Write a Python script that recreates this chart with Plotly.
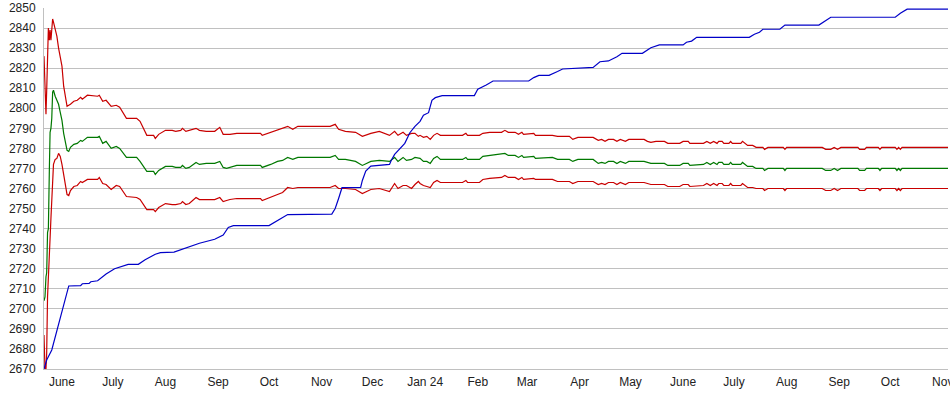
import plotly.graph_objects as go

# ---------------- data ----------------
blue_dates = [
    "2023-05-21 10:00", "2023-05-23", "2023-05-26", "2023-05-29", "2023-06-01", "2023-06-03",
    "2023-06-05", "2023-06-12", "2023-06-13", "2023-06-17", "2023-06-18", "2023-06-22",
    "2023-06-27", "2023-07-02", "2023-07-10", "2023-07-16", "2023-07-20", "2023-07-26",
    "2023-07-29", "2023-08-06", "2023-08-12", "2023-08-21", "2023-08-30", "2023-09-04",
    "2023-09-07", "2023-09-10", "2023-10-01", "2023-10-05", "2023-10-09", "2023-10-12",
    "2023-11-07", "2023-11-09", "2023-11-11", "2023-11-13", "2023-11-24", "2023-11-25",
    "2023-11-27", "2023-11-30", "2023-12-11", "2023-12-12", "2023-12-14", "2023-12-17",
    "2023-12-20", "2023-12-23", "2023-12-26", "2023-12-29", "2023-12-31", "2024-01-03",
    "2024-01-05", "2024-01-07", "2024-01-11", "2024-01-30", "2024-02-01", "2024-02-06",
    "2024-02-10", "2024-03-02", "2024-03-05", "2024-03-08", "2024-03-14", "2024-03-19",
    "2024-03-22", "2024-04-09", "2024-04-13", "2024-04-18", "2024-04-23", "2024-04-26",
    "2024-05-08", "2024-05-13", "2024-05-18", "2024-06-01", "2024-06-03", "2024-06-06",
    "2024-06-09", "2024-07-10", "2024-07-13", "2024-07-16", "2024-07-18", "2024-07-28",
    "2024-07-31", "2024-08-20", "2024-08-23", "2024-08-27", "2024-10-04", "2024-10-07",
    "2024-10-11", "2024-11-04 02:00",
]
blue_values = [
    2670, 2674.5, 2679.5, 2689.5, 2699.4, 2706,
    2711.4, 2711.6, 2712.5, 2712.7, 2713.5, 2714,
    2717.4, 2720, 2722.2, 2722.2, 2724.5, 2727.2,
    2728, 2728.3, 2730.2, 2732.7, 2734.7, 2736.8,
    2740.6, 2741.5, 2741.5, 2743.5, 2745.5, 2747,
    2747.2, 2750, 2755, 2760.4, 2760.5, 2764,
    2768.7, 2771.2, 2772, 2774, 2777, 2779.6,
    2782.5, 2787.8, 2791, 2793.5, 2796.6, 2797.8,
    2804, 2805.3, 2806.3, 2806.3, 2809.5, 2811.6,
    2813.6, 2813.6, 2815.3, 2816.4, 2816.4, 2818.3,
    2819.6, 2820.4, 2823.2, 2823.6, 2825.7, 2827.4,
    2827.4, 2830.2, 2831.6, 2831.6, 2832.9, 2833.5,
    2835.4, 2835.4, 2836.9, 2837.9, 2839.4, 2839.4,
    2841.5, 2841.5, 2843.2, 2845.4, 2845.4, 2847.4,
    2849.4, 2849.4,
]

band_dates = [
    "2023-05-21 10:00", "2023-05-22 00:00", "2023-05-22 14:00", "2023-05-23 00:00",
    "2023-05-23 12:00", "2023-05-24 00:00", "2023-05-24 14:00", "2023-05-25 00:00",
    "2023-05-25 12:00", "2023-05-26 00:00", "2023-05-26 12:00", "2023-05-27",
    "2023-05-28", "2023-05-29", "2023-05-30", "2023-05-31", "2023-06-01", "2023-06-02",
    "2023-06-03", "2023-06-04", "2023-06-05", "2023-06-06",
    "2023-06-08", "2023-06-10", "2023-06-12", "2023-06-13", "2023-06-16", "2023-06-22",
    "2023-06-23", "2023-06-25", "2023-06-27", "2023-06-30", "2023-07-03", "2023-07-05",
    "2023-07-09", "2023-07-15", "2023-07-17", "2023-07-21", "2023-07-25", "2023-07-26",
    "2023-07-28", "2023-08-01", "2023-08-05", "2023-08-07", "2023-08-10", "2023-08-11",
    "2023-08-13", "2023-08-15", "2023-08-19", "2023-08-21", "2023-08-25", "2023-08-30",
    "2023-09-02", "2023-09-04", "2023-09-06", "2023-09-08", "2023-09-12", "2023-09-26",
    "2023-09-27", "2023-10-02", "2023-10-06", "2023-10-09", "2023-10-12", "2023-10-15",
    "2023-10-18", "2023-11-06", "2023-11-09", "2023-11-11", "2023-11-15", "2023-11-21",
    "2023-11-25", "2023-11-30", "2023-12-05", "2023-12-11", "2023-12-14", "2023-12-16",
    "2023-12-19", "2023-12-21", "2023-12-24", "2023-12-26", "2023-12-28", "2023-12-29",
    "2023-12-31", "2024-01-02", "2024-01-04", "2024-01-06", "2024-01-08", "2024-01-10",
    "2024-01-23", "2024-01-25", "2024-01-26", "2024-02-02", "2024-02-04", "2024-02-08",
    "2024-02-15", "2024-02-17", "2024-02-19", "2024-02-23", "2024-02-25", "2024-02-27",
    "2024-02-28", "2024-03-05", "2024-03-06", "2024-03-16", "2024-03-19", "2024-03-26",
    "2024-03-28", "2024-03-31", "2024-04-09", "2024-04-12", "2024-04-14", "2024-04-16",
    "2024-04-18", "2024-04-21", "2024-04-23", "2024-04-25", "2024-04-28", "2024-04-30",
    "2024-05-09", "2024-05-11", "2024-05-13", "2024-05-16", "2024-05-21", "2024-05-23",
    "2024-05-30", "2024-06-01", "2024-06-04", "2024-06-05", "2024-06-13", "2024-06-15",
    "2024-06-17", "2024-06-19", "2024-06-21", "2024-06-22", "2024-06-24", "2024-06-25",
    "2024-06-28", "2024-06-29", "2024-06-30", "2024-07-05", "2024-07-06", "2024-07-09",
    "2024-07-12", "2024-07-14", "2024-07-18", "2024-07-19", "2024-07-21", "2024-07-30",
    "2024-07-31", "2024-08-01", "2024-08-22", "2024-08-24", "2024-08-27", "2024-08-29",
    "2024-08-31", "2024-09-02", "2024-09-12", "2024-09-13", "2024-09-16", "2024-09-17",
    "2024-09-24", "2024-09-25", "2024-09-26", "2024-10-04", "2024-10-05", "2024-10-06",
    "2024-10-07", "2024-10-08", "2024-11-04 02:00",
]
upper_values = [
    2826, 2812, 2797, 2809,
    2829, 2840, 2834, 2839,
    2834, 2840, 2844.5, 2843,
    2839, 2836, 2830, 2826, 2821, 2811,
    2805, 2801, 2801.5, 2802,
    2803.5, 2804, 2805.5, 2804.5, 2806.5, 2806,
    2806.5, 2803.5, 2804, 2801, 2801.5, 2800.5,
    2795, 2795, 2793.5, 2786.5, 2786.5, 2785,
    2787, 2789, 2789, 2788.5, 2789, 2790,
    2788.5, 2789, 2790, 2789, 2788.5, 2788.5,
    2790.5, 2787, 2787, 2787, 2787.5, 2787.5,
    2786.5, 2788, 2789.5, 2790, 2791, 2789.5,
    2791, 2791, 2792, 2789.5, 2788.5, 2788,
    2786, 2787.5, 2788.5, 2786.5, 2788.5, 2786.5,
    2788, 2786.5, 2787.5, 2787.5, 2786, 2786.5,
    2785.5, 2786, 2784.5, 2786.5, 2787.5, 2786.5,
    2786.5, 2787.5, 2786.5, 2786.5, 2787.5, 2788,
    2788, 2789, 2788, 2788, 2787, 2788,
    2787, 2787.5, 2786.5, 2786.5, 2786, 2786,
    2784.5, 2785.5, 2785.5, 2784, 2784.5, 2783.5,
    2784.5, 2784.5, 2783.5, 2784.5, 2783.5, 2784.5,
    2784.5, 2783.5, 2783, 2783.5, 2783.5, 2782.5,
    2782.5, 2783.5, 2783.5, 2782.5, 2782.5, 2783.5,
    2782.5, 2783.5, 2782.5, 2783.5, 2783.5, 2782.5,
    2782.5, 2783.5, 2782.5, 2782.5, 2783.5, 2781.5,
    2781.5, 2780.5, 2780.5, 2779.5, 2780.5, 2780.5,
    2779.5, 2780.5, 2780.5, 2779.5, 2779.5, 2780.5,
    2779.5, 2780.5, 2780.5, 2779.5, 2779.5, 2780.5,
    2780.5, 2779.5, 2780.5, 2780.5, 2779.5, 2780.5,
    2779.5, 2780.5, 2780.5,
]
green_values = [
    2704, 2706, 2716, 2718,
    2738, 2740, 2770, 2788,
    2790, 2795, 2808, 2809,
    2806, 2804, 2802, 2798, 2794, 2787.5,
    2783, 2779, 2778.5, 2780.5,
    2782, 2782.5, 2784, 2783.5, 2785.5, 2785.5,
    2786, 2782.5, 2783.5, 2780, 2781, 2780,
    2775.5, 2775.5, 2773.5, 2768.5, 2768.5, 2767,
    2769, 2771, 2771, 2770.5, 2770.5, 2771.5,
    2770, 2770.5, 2773, 2772, 2772.5, 2772.5,
    2773.5, 2770.5, 2770, 2770.5, 2771.5, 2771.5,
    2770.5, 2772, 2773.5, 2774, 2775.5, 2774.5,
    2775.5, 2775.5, 2776.5, 2774.5, 2774.5, 2773.5,
    2771.5, 2773.5, 2774, 2773.5, 2775.5, 2773.5,
    2775.5, 2774, 2774.5, 2775.5, 2775, 2775,
    2773.5, 2773.5, 2772.5, 2775, 2776, 2774.5,
    2774.5, 2775.5, 2774.5, 2774.5, 2776, 2776.5,
    2777, 2777.5, 2776.5, 2776.5, 2775.5, 2776.5,
    2775.5, 2776, 2775, 2775.5, 2774.5, 2774.5,
    2773.5, 2774.5, 2774.5, 2772.5, 2773, 2772.5,
    2773.5, 2773.5, 2772.5, 2773.5, 2772.5, 2773.5,
    2773.5, 2773, 2772.5, 2772.5, 2772.5, 2771.5,
    2771.5, 2772.5, 2772.5, 2771.5, 2772, 2773,
    2772, 2773, 2772, 2773, 2773, 2772,
    2772, 2773, 2772, 2772, 2773, 2771,
    2771, 2770, 2770, 2769, 2770, 2770,
    2769, 2770, 2770, 2769, 2769, 2770,
    2769, 2770, 2770, 2769, 2769, 2770,
    2770, 2769, 2770, 2770, 2769, 2770,
    2769, 2770, 2770,
]
lower_values = [
    2687, 2670, 2670, 2678,
    2706, 2718, 2730, 2738,
    2745, 2754, 2764, 2772,
    2774.5, 2775, 2777.5, 2776, 2772, 2767.5,
    2762, 2757, 2756.5, 2759,
    2761, 2761.5, 2763.5, 2763, 2764.5, 2764.5,
    2765.5, 2762.5, 2762, 2759.5, 2761.5, 2761,
    2756, 2755.5, 2754.5, 2749.5, 2749.5, 2748.5,
    2750.5, 2752.5, 2752, 2752, 2752.5, 2753.5,
    2752, 2752.5, 2755.5, 2754.5, 2754.5, 2754.5,
    2755.5, 2753.5, 2754, 2754.5, 2755, 2755,
    2754, 2755.5, 2757, 2758, 2760.5, 2760,
    2760.5, 2760.5, 2761.5, 2760, 2760, 2759.5,
    2757.5, 2759.5, 2760, 2758.5, 2762.5, 2760,
    2761.5, 2761.5, 2760, 2762, 2763.5, 2762.5,
    2761.5, 2761, 2760.5, 2763, 2764, 2763,
    2763, 2764, 2763, 2763, 2764.5, 2765,
    2765.5, 2766.5, 2765.5, 2765.5, 2764.5, 2765.5,
    2764.5, 2765, 2764.5, 2764.5, 2763.5, 2763.5,
    2762.5, 2763.5, 2763.5, 2762, 2762.5, 2762,
    2763, 2763, 2762, 2763, 2762, 2763,
    2763, 2762.5, 2762, 2762, 2762, 2761,
    2761, 2762, 2762, 2761, 2761.5, 2762.5,
    2761.5, 2762.5, 2761.5, 2762.5, 2762.5, 2761.5,
    2761.5, 2762.5, 2761.5, 2761.5, 2762.5, 2760.5,
    2760.5, 2760, 2760, 2759, 2760, 2760,
    2759, 2760, 2760, 2759, 2759, 2760,
    2759, 2760, 2760, 2759, 2759, 2760,
    2760, 2759, 2760, 2760, 2759, 2760,
    2759, 2760, 2760,
]

tick_dates = [
    "2023-06-01", "2023-07-01", "2023-08-01", "2023-09-01", "2023-10-01", "2023-11-01",
    "2023-12-01", "2024-01-01", "2024-02-01", "2024-03-01", "2024-04-01", "2024-05-01",
    "2024-06-01", "2024-07-01", "2024-08-01", "2024-09-01", "2024-10-01", "2024-11-01",
]
tick_labels = [
    "June", "July", "Aug", "Sep", "Oct", "Nov", "Dec", "Jan 24", "Feb", "Mar", "Apr",
    "May", "June", "July", "Aug", "Sep", "Oct", "Nov",
]
y_ticks = list(range(2670, 2851, 10))

# ---------------- figure ----------------
RED = "#c80000"
GREEN = "#007800"
BLUE = "#0000c8"

fig = go.Figure()
fig.add_trace(go.Scatter(x=band_dates, y=lower_values, mode="lines",
                         line=dict(color=RED, width=1.2), hoverinfo="skip"))
fig.add_trace(go.Scatter(x=band_dates, y=upper_values, mode="lines",
                         line=dict(color=RED, width=1.2), hoverinfo="skip"))
fig.add_trace(go.Scatter(x=band_dates, y=green_values, mode="lines",
                         line=dict(color=GREEN, width=1.2), hoverinfo="skip"))
fig.add_trace(go.Scatter(x=blue_dates, y=blue_values, mode="lines",
                         line=dict(color=BLUE, width=1.2), hoverinfo="skip"))

fig.update_layout(
    width=950, height=395,
    margin=dict(l=44, r=2, t=8, b=26, autoexpand=False),
    paper_bgcolor="white", plot_bgcolor="white",
    showlegend=False,
    font=dict(family="Liberation Sans, Arial, sans-serif", size=12, color="#222222"),
    xaxis=dict(
        type="date",
        range=["2023-05-21 10:00", "2024-11-04 02:00"],
        tickmode="array", tickvals=tick_dates, ticktext=tick_labels,
        showgrid=False, zeroline=False, automargin=False,
        showline=True, linecolor="#c0c0c0", linewidth=1,
        ticks="", ticklabelstandoff=2, ticklabeloverflow="allow",
    ),
    yaxis=dict(
        range=[2670, 2850],
        tickmode="array", tickvals=y_ticks, ticktext=[str(v) for v in y_ticks],
        showgrid=True, gridcolor="#c0c0c0", gridwidth=1, automargin=False,
        zeroline=False, showline=True, linecolor="#c0c0c0", linewidth=1,
        ticks="", ticklabelstandoff=5,
    ),
)

fig.write_html("out.html")
